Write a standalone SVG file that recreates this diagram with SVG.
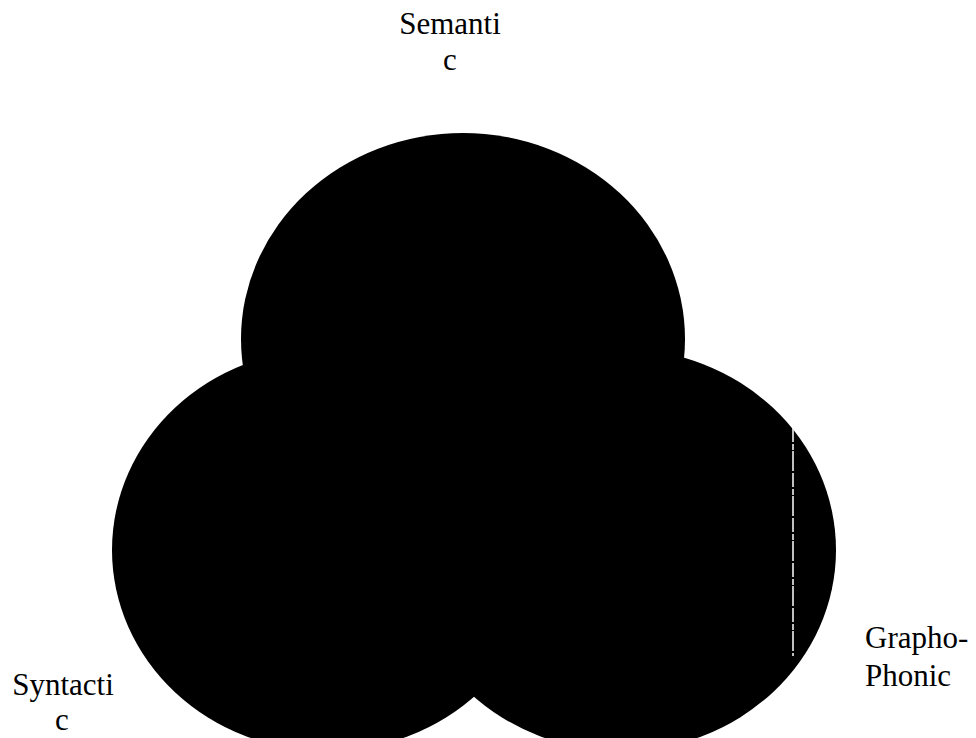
<svg xmlns="http://www.w3.org/2000/svg" width="976" height="738" viewBox="0 0 976 738">
  <style>
    .blob { fill: #000000; stroke: none; }
    .label { font-family: "Liberation Serif", "Times New Roman", serif; font-size: 31px; fill: #000000; }
    .mid { text-anchor: middle; }
    .scratch { stroke: #ffffff; stroke-width: 1.5; fill: none; stroke-dasharray: 14 2 6 1 20 2; }
  </style>
  <rect x="0" y="0" width="976" height="738" fill="#ffffff"/>
  <g id="semantic">
    <ellipse class="blob" cx="463" cy="339" rx="222" ry="206"/>
    <text class="label mid" x="450" y="34">Semanti</text>
    <text class="label mid" x="450" y="70">c</text>
  </g>
  <g id="syntactic">
    <ellipse class="blob" cx="327" cy="550" rx="215" ry="201"/>
    <text class="label mid" x="63" y="695">Syntacti</text>
    <text class="label mid" x="62" y="730">c</text>
  </g>
  <g id="graphophonic">
    <ellipse class="blob" cx="621" cy="550" rx="215" ry="201"/>
    <text class="label" x="865" y="648">Grapho-</text>
    <text class="label" x="865" y="686">Phonic</text>
  </g>
  <g id="connectors"></g>
  <line class="scratch" x1="793" y1="428" x2="793" y2="656"/>
</svg>
